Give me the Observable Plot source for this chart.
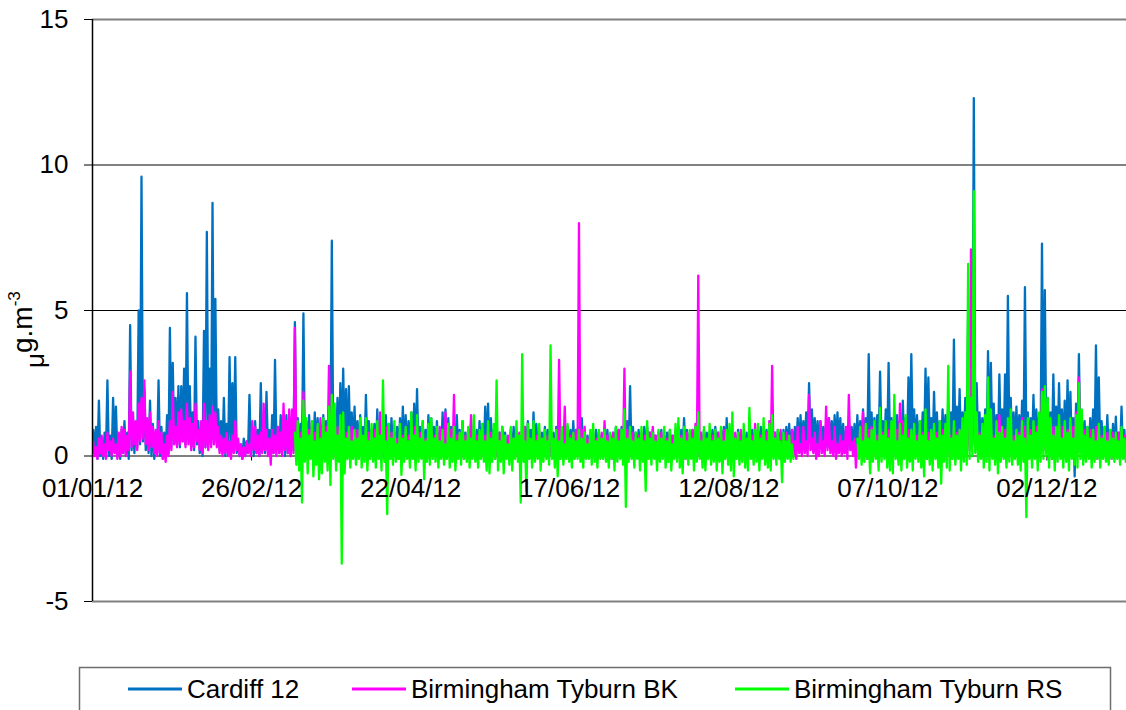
<!DOCTYPE html>
<html>
<head>
<meta charset="utf-8">
<script src="https://cdn.jsdelivr.net/npm/d3@7"></script>
<script src="https://cdn.jsdelivr.net/npm/@observablehq/plot@0.6"></script>
<style>
  html, body { margin: 0; padding: 0; background: #fff; }
  body { position: relative; width: 1126px; height: 710px; overflow: hidden; font-family: "Liberation Sans", Arial, sans-serif; }
  #chart { position: absolute; left: 0; top: 0; }
  #legend { position: absolute; left: 0; top: 650px; }
</style>
</head>
<body>
<div id="chart"></div>
<svg id="legend" width="1126" height="60"></svg>
<script>
// ---------- DATA (daily high / low values, µg.m-3) ----------
const seriesNames = ["Cardiff 12", "Birmingham Tyburn BK", "Birmingham Tyburn RS"];
const seriesColors = ["#0070C0", "#FF00FF", "#00FF00"];
const yTicks = [-5, 0, 5, 10, 15];
const xTickLabels = ["01/01/12", "26/02/12", "22/04/12", "17/06/12", "12/08/12", "07/10/12", "02/12/12"];
const yearStart = "01/01/12";
const yearEndDay = 364;      // last day shown (30/12/12)
const rsFirstDay = 71;       // RS series starts 12/03/12

const cardiffHi = [
0.9,1.0,1.9,0.6,0.8,2.6,0.7,2.0,1.7,0.6,
0.9,1.2,0.8,4.5,1.3,1.0,5.0,9.6,2.3,1.2,
1.9,1.1,0.6,2.6,1.0,0.8,1.4,4.4,3.2,2.0,
2.4,2.4,3.0,5.6,2.4,1.5,4.1,1.2,1.0,4.3,
7.7,3.0,8.7,5.4,1.6,1.2,2.0,1.1,3.4,2.5,
3.4,0.5,0.4,0.6,0.5,2.1,0.8,1.2,0.9,2.5,
1.0,2.2,0.9,1.4,3.3,1.0,1.4,1.3,1.4,0.8,
1.2,4.6,1.3,1.1,4.9,1.2,1.4,1.0,1.5,1.3,
1.0,1.4,1.2,1.6,7.4,1.5,2.0,2.5,3.0,2.3,
2.4,1.5,1.7,1.2,1.4,1.0,2.1,1.2,0.9,1.1,
1.6,1.0,0.9,1.4,1.1,1.3,0.8,1.0,1.3,1.7,
1.4,1.2,1.5,1.8,2.3,1.0,1.2,0.9,1.4,1.3,
1.0,1.2,0.8,1.5,1.6,1.3,1.0,1.1,1.4,0.9,
1.2,0.8,0.9,1.1,0.7,0.9,1.2,1.1,1.7,1.8,
1.3,0.9,0.7,0.8,1.0,0.8,0.6,0.9,1.0,0.8,
0.7,0.9,1.0,1.2,0.9,1.5,1.1,0.7,0.8,1.0,
0.9,0.7,0.8,1.0,0.8,0.7,0.9,1.0,0.9,1.2,
0.9,1.0,1.3,0.8,0.7,0.8,0.6,0.9,0.8,0.7,
0.8,0.9,0.7,0.8,1.0,0.9,1.0,1.1,1.2,2.4,
1.0,0.8,0.9,0.7,1.0,1.0,0.8,0.9,0.7,0.8,
0.9,0.7,0.8,0.9,0.7,0.8,1.0,0.9,1.3,0.9,
0.8,0.9,1.0,0.8,0.7,0.9,0.8,0.7,0.9,1.0,
0.8,0.9,1.0,1.3,0.9,0.8,0.7,0.9,0.8,0.7,
0.8,1.0,0.9,0.8,0.9,1.0,0.8,0.9,1.0,0.9,
0.8,0.9,0.8,0.9,1.0,1.1,0.9,1.0,1.3,1.4,
1.2,1.5,2.5,1.6,1.3,1.2,1.2,1.0,1.1,1.3,
1.2,1.4,1.5,1.3,1.1,0.9,1.2,1.0,1.1,1.4,
1.2,1.6,1.3,3.5,1.5,1.3,1.4,2.9,1.2,1.6,
3.2,1.3,1.5,1.4,1.2,1.9,1.3,2.7,3.5,1.6,
1.4,1.2,1.5,3.0,2.7,1.3,2.2,1.5,1.2,1.6,
1.4,1.8,1.5,4.0,1.7,2.3,1.5,2.0,4.9,3.0,
12.3,2.5,1.5,1.3,1.6,3.6,3.2,1.8,1.4,2.8,
1.6,2.8,5.5,2.0,1.5,1.7,1.4,1.9,5.8,1.5,
1.3,2.1,1.6,1.4,7.3,5.7,2.0,1.5,2.8,1.7,
2.5,1.6,1.9,2.6,2.2,1.3,1.8,3.5,1.4,1.2,
1.0,1.3,1.6,3.8,2.7,1.2,1.0,1.4,0.9,1.1,
1.35,0.8,1.7,0.9,0.6];

const cardiffLo = [
0.1,-0.1,0.0,-0.1,0.1,0.0,-0.1,0.2,0.0,-0.1,
0.1,0.0,-0.1,0.2,0.1,0.3,0.4,0.5,0.2,0.1,
0.0,-0.1,0.1,0.0,-0.1,0.0,0.1,0.3,0.5,0.4,
0.3,0.5,0.4,0.6,0.3,0.2,0.4,0.1,0.0,0.3,
0.5,0.4,0.6,0.5,0.2,0.1,0.0,0.1,0.3,0.2,
0.1,0.0,-0.1,0.0,0.1,0.2,0.0,0.1,0.0,0.2,
0.1,0.2,0.0,0.1,0.3,0.1,0.2,0.0,0.1,0.0,
0.2,0.3,0.1,0.0,0.2,0.1,0.0,0.1,0.2,0.1,
0.0,0.1,0.2,0.1,0.3,0.2,0.1,0.2,0.3,0.1,
0.2,0.1,0.0,0.1,0.0,0.1,0.2,0.0,0.1,0.0,
0.1,0.0,0.2,0.1,0.0,0.1,0.2,0.0,0.1,0.1,
0.0,0.2,0.1,0.0,0.1,0.2,0.0,0.1,0.0,0.1,
0.1,0.0,0.2,0.1,0.0,0.1,0.0,0.2,0.1,0.0,
0.1,0.0,0.1,0.2,0.0,0.1,0.0,0.1,0.2,0.1,
0.0,0.1,0.0,0.1,0.0,0.2,0.1,0.0,0.1,0.0,
0.1,0.0,0.2,0.1,0.0,0.1,0.0,0.1,0.0,0.1,
0.0,0.1,0.0,0.2,0.1,0.0,0.1,0.0,0.1,0.0,
0.1,0.0,0.1,0.0,0.1,0.0,0.1,0.2,0.0,0.1,
0.0,0.1,0.0,0.1,0.0,0.1,0.0,0.1,0.2,0.0,
0.1,0.0,0.1,0.0,0.1,0.0,0.2,0.1,0.0,0.1,
0.0,0.1,0.0,0.1,0.0,0.1,0.0,0.2,0.1,0.0,
0.1,0.0,0.1,0.0,0.2,0.1,0.0,0.1,0.0,0.1,
0.0,0.1,0.0,0.1,0.0,0.2,0.1,0.0,0.1,0.0,
0.1,0.0,0.1,0.0,0.1,0.0,0.1,0.2,0.0,0.1,
0.0,0.1,0.0,0.1,0.2,0.1,0.2,0.3,0.2,0.3,
0.4,0.3,0.5,0.4,0.3,0.2,0.3,0.2,0.3,0.4,
0.3,0.2,0.3,0.2,0.1,0.2,0.3,0.2,0.1,0.2,
0.3,0.2,0.3,0.4,0.3,0.2,0.3,0.4,0.2,0.3,
0.4,0.3,0.2,0.3,0.2,0.4,0.3,0.4,0.5,0.3,
0.2,0.3,0.2,0.4,0.3,0.2,0.3,0.2,0.1,0.2,
0.3,0.2,0.3,0.4,0.3,0.2,0.3,0.4,0.6,0.8,
1.0,0.5,0.3,0.2,0.3,0.4,0.5,0.3,0.2,0.3,
0.2,0.3,0.4,0.3,0.2,0.3,0.2,0.3,0.4,0.2,
0.3,0.2,0.3,0.2,0.4,0.5,0.3,0.2,0.3,0.2,
0.3,0.2,0.1,0.2,0.1,-0.7,0.2,0.3,0.2,0.1,
0.2,0.1,0.2,0.3,0.2,0.1,0.0,0.1,0.0,0.1,
0.0,0.1,0.0,-0.1,0.0];

const bkHi = [
0.5,0.3,0.6,0.7,0.4,0.8,0.5,0.6,0.4,0.8,
1.0,0.9,0.7,2.9,1.5,1.2,1.8,2.0,2.6,1.3,
1.5,1.0,0.9,1.2,0.8,0.4,0.7,1.2,2.2,1.0,
1.5,1.6,1.2,1.8,1.3,1.1,1.8,0.9,1.2,1.8,
1.2,1.4,1.7,1.5,1.0,0.7,0.6,0.8,0.5,0.7,
1.2,0.6,0.4,0.3,0.5,0.4,1.2,1.0,0.7,0.8,
1.8,0.9,0.6,0.9,0.7,1.0,0.8,1.8,1.2,1.6,
1.6,4.4,1.0,0.8,2.2,1.0,0.9,1.2,0.8,1.0,
1.3,1.2,1.0,3.1,1.5,0.8,1.0,0.9,0.7,0.8,
0.8,1.0,0.7,0.9,0.8,0.6,0.7,0.8,0.6,0.9,
1.0,1.5,0.8,1.0,1.0,0.8,0.7,0.6,0.8,0.7,
0.9,0.7,0.8,1.0,0.9,0.8,0.7,0.6,0.8,0.9,
0.7,0.8,1.0,0.9,1.5,0.8,0.9,2.1,0.7,0.8,
0.6,0.7,0.9,1.4,0.8,0.7,0.6,0.8,0.7,0.9,
0.8,0.6,0.7,0.8,0.9,0.6,0.7,0.8,0.6,0.7,
0.8,0.9,1.0,0.7,0.6,0.8,0.7,0.9,0.6,0.8,
0.7,0.8,0.6,0.9,3.3,0.8,1.7,0.9,0.7,0.8,
0.9,8.0,0.9,1.0,0.6,0.7,0.8,0.6,0.7,0.8,
1.2,0.7,0.6,0.8,0.7,0.9,0.8,3.0,0.9,0.7,
0.8,0.6,0.7,0.8,0.7,0.9,0.8,1.0,0.7,0.6,
0.8,0.7,0.6,0.8,0.7,0.9,0.8,0.7,0.6,0.8,
0.7,0.9,1.1,6.2,0.8,0.7,0.6,0.8,0.7,0.6,
0.8,0.7,0.9,0.8,0.7,0.6,0.8,0.7,0.9,0.7,
0.6,0.8,0.7,1.1,0.8,0.7,0.9,0.8,1.2,3.1,
0.8,0.4,0.9,0.5,0.8,0.4,0.9,0.5,1.0,0.4,
1.0,0.5,2.1,0.6,0.8,0.4,1.2,0.5,1.7,1.3,
0.5,1.0,0.4,0.7,0.5,1.0,2.1,0.5,0.6,0.4,
1.0,1.5,0.8,0.9,1.0,0.8,0.7,0.9,0.8,1.0,
0.9,0.8,1.0,0.9,1.8,1.2,0.8,0.9,0.7,0.8,
0.7,0.9,0.8,1.0,0.8,0.7,0.9,0.8,0.7,0.9,
0.8,0.9,0.7,1.0,0.8,0.9,0.7,0.9,2.0,7.1,
2.5,0.9,0.8,0.7,0.9,1.0,0.8,0.7,0.9,1.4,
0.8,0.9,1.0,0.8,0.7,0.9,0.8,1.3,1.0,0.8,
0.9,0.8,1.0,1.2,2.3,1.5,1.2,0.9,1.0,0.8,
0.9,1.0,0.8,0.9,1.2,1.0,1.5,2.7,1.3,0.9,
0.8,0.9,0.7,1.0,0.8,0.7,0.9,0.8,0.7,0.8,
0.7,0.8,0.6,0.7,0.6];

const bkLo = [
0.0,-0.1,0.1,0.0,-0.1,0.2,0.0,0.1,-0.1,0.0,
0.1,0.0,0.2,0.3,0.4,0.2,0.5,0.6,0.4,0.2,
0.3,0.1,0.0,0.1,-0.1,-0.2,0.0,0.2,0.4,0.3,
0.4,0.5,0.3,0.4,0.2,0.3,0.5,0.2,0.1,0.3,
0.2,0.3,0.4,0.3,0.1,0.0,0.1,0.0,-0.1,0.1,
0.2,0.0,-0.1,0.0,0.1,0.0,0.2,0.1,0.0,0.1,
0.2,0.0,-0.3,0.1,0.0,0.1,0.0,0.2,0.1,0.0,
0.1,0.2,0.0,0.1,0.2,0.0,0.1,0.0,-0.1,0.0,
0.1,0.0,0.2,0.1,0.0,-0.2,0.1,0.0,0.1,0.0,
0.0,0.1,-0.1,0.0,0.1,0.0,-0.1,0.1,0.0,0.0,
0.1,0.0,-0.1,0.0,0.1,0.0,0.0,-0.1,0.1,0.0,
0.0,0.1,0.0,-0.1,0.0,0.1,0.0,0.0,-0.1,0.1,
0.0,-0.1,0.1,0.0,0.0,0.1,-0.1,0.0,0.1,0.0,
-0.1,0.0,0.1,0.0,0.0,-0.1,0.1,0.0,0.0,0.1,
0.0,-0.1,0.0,0.1,0.0,0.0,-0.1,0.1,0.0,0.0,
0.1,0.0,-0.1,0.0,0.1,0.0,0.0,-0.1,0.1,0.0,
0.0,0.1,-0.1,0.0,0.0,0.1,0.0,-0.1,0.0,0.1,
0.0,0.0,-0.1,0.1,0.0,0.0,0.1,-0.1,0.0,0.0,
0.1,0.0,-0.1,0.0,0.1,0.0,0.0,-0.1,0.1,0.0,
0.0,0.1,0.0,-0.1,0.0,0.0,0.1,0.0,-0.1,0.0,
0.1,0.0,0.0,-0.1,0.1,0.0,0.0,0.1,-0.1,0.0,
0.0,0.1,0.0,0.0,-0.1,0.1,0.0,0.0,-0.1,0.0,
0.1,0.0,0.0,-0.1,0.0,0.1,0.0,-0.1,0.0,0.1,
0.0,0.0,-0.1,0.1,0.0,0.0,0.1,-0.1,0.0,0.0,
0.1,0.0,-0.1,0.0,0.0,0.1,0.0,-0.1,0.1,0.0,
0.1,0.0,0.2,0.1,-0.1,0.0,0.1,0.0,0.2,0.1,
0.0,-0.1,0.1,0.0,0.1,-0.1,0.2,0.0,-0.4,0.0,
0.1,0.0,-0.1,0.0,0.1,0.0,-0.1,0.1,0.0,0.0,
0.1,0.0,0.0,-0.1,0.1,0.0,0.0,0.1,-0.1,0.0,
0.0,0.1,0.0,-0.1,0.0,0.1,0.0,0.0,-0.1,0.1,
0.0,0.0,0.1,-0.1,0.0,0.1,0.0,0.0,0.2,0.4,
0.3,0.1,0.0,-0.1,0.0,0.1,0.0,0.0,-0.1,0.1,
0.0,0.1,0.0,-0.1,0.0,0.0,0.1,0.0,-0.1,0.0,
0.1,0.0,0.0,0.1,0.2,0.1,0.0,-0.1,0.0,0.1,
0.0,0.0,-0.1,0.1,0.0,0.0,0.1,0.2,0.0,-0.1,
0.0,0.1,0.0,-0.1,0.0,0.0,0.1,0.0,-0.1,0.0,
0.0,0.1,0.0,-0.1,0.0];

// RS: from day 71 (12/03/12); null = no data (September gap)
const rsHi = [
0.8,1.2,0.6,1.9,1.3,0.7,1.2,0.5,1.1,
0.6,1.3,0.8,1.7,2.1,1.8,0.7,1.4,1.5,0.6,
1.0,0.5,0.9,0.6,1.3,0.7,1.3,0.5,1.1,0.6,
1.2,0.7,2.6,0.5,1.1,0.6,1.2,0.4,1.1,0.6,
1.0,0.5,1.5,0.7,1.4,0.6,1.2,0.5,1.1,1.3,
0.6,1.0,0.5,0.9,0.4,1.1,0.6,1.0,0.5,0.8,
1.2,0.5,1.0,0.6,1.4,0.5,0.9,1.1,0.5,1.2,
0.6,1.1,2.6,0.5,1.0,0.7,0.4,1.0,0.6,1.2,
0.7,3.5,0.5,1.1,0.6,1.2,0.5,1.1,0.6,0.9,
0.5,3.8,0.6,0.9,0.5,1.0,0.4,1.1,0.6,0.8,
0.5,0.9,0.6,0.8,0.4,0.9,1.1,0.5,0.9,0.6,
0.9,0.5,0.8,0.6,1.0,0.5,0.9,1.6,0.6,1.0,
0.5,0.8,0.6,1.0,0.5,1.2,0.6,0.8,0.5,0.9,
0.6,1.0,0.5,0.9,0.4,1.1,1.3,0.6,1.0,0.5,
0.9,0.6,1.0,1.5,0.5,1.0,0.6,1.1,0.5,0.9,
0.6,1.0,0.5,0.9,1.1,1.5,0.6,0.8,0.5,1.1,
0.6,1.65,0.5,0.9,1.1,0.6,1.3,0.5,1.1,1.4,
0.6,0.9,0.5,0.8,0.5,0.7,0.4,
null,null,null,null,null,null,null,null,null,null,null,
null,null,null,null,null,null,null,null,null,null,null,
0.6,1.0,0.5,1.1,0.6,0.9,1.2,0.5,1.65,0.7,1.2,
0.6,1.2,2.1,0.5,1.1,0.7,1.4,0.6,0.9,1.1,
0.5,1.2,0.7,1.6,0.5,0.9,1.1,0.6,1.2,0.7,
1.1,3.1,0.6,1.2,0.7,0.9,1.3,1.5,6.6,2.0,
9.1,1.5,0.7,1.1,1.4,2.7,1.6,0.6,1.2,0.8,
1.0,0.6,1.3,1.6,0.5,0.9,0.7,1.2,0.6,1.3,
0.7,1.2,0.8,1.5,2.2,2.4,2.0,1.3,0.7,1.0,
1.4,0.6,1.2,0.8,1.3,0.6,1.4,2.5,1.6,0.7,
1.0,0.6,0.9,0.5,1.1,0.6,1.0,0.5,0.9,0.6,
0.8,0.5,1.0,0.6,0.7];

const rsLo = [
-0.3,-0.5,-1.6,-0.2,-0.6,-0.1,-0.7,-0.3,-0.8,
-0.6,-0.2,-0.5,-1.0,-0.1,-0.5,-0.2,-3.7,-0.6,-0.1,
-0.4,-0.1,-0.3,-0.1,-0.4,-0.2,-0.5,-0.1,-0.2,-0.4,
-0.1,-0.5,-0.2,-2.0,-0.1,-0.3,-0.2,-0.1,-0.65,-0.2,
-0.1,-0.4,-0.1,-0.5,-0.2,-0.1,-0.8,-0.2,-0.3,-0.1,
-0.2,-0.4,-0.1,-0.3,-0.1,-0.4,-0.2,-0.5,-0.1,-0.3,
-0.1,-0.2,-0.4,-0.1,-0.2,-0.4,-0.1,-0.2,-0.5,-0.6,
-0.2,-0.1,-0.5,-0.2,-0.6,-0.1,-0.3,-0.5,-0.1,-0.2,
-1.6,-0.2,-1.2,-0.1,-0.4,-0.2,-0.1,-0.5,-0.2,-0.1,
-0.3,-0.1,-0.4,-0.7,-0.1,-0.3,-0.1,-0.2,-0.4,-0.1,
-0.1,-0.2,-0.4,-0.1,-0.1,-0.3,-0.2,-0.4,-0.1,-0.1,
-0.2,-0.4,-0.1,-0.5,-0.2,-0.1,-0.3,-1.75,-0.2,-0.1,
-0.4,-0.1,-0.5,-0.2,-1.2,-0.1,-0.3,-0.1,-0.5,-0.2,
-0.1,-0.4,-0.2,-0.5,-0.1,-0.2,-0.4,-0.6,-0.1,-0.3,
-0.1,-0.5,-0.2,-0.1,-0.4,-0.5,-0.1,-0.3,-0.2,-0.5,
-0.2,-0.6,-0.1,-0.3,-0.5,-0.7,-0.1,-0.3,-0.2,-0.4,
-0.5,-0.1,-0.3,-0.2,-0.5,-0.1,-0.3,-0.4,-0.5,-0.1,
-0.3,-0.1,-0.9,-0.2,-0.1,-0.2,-0.1,
null,null,null,null,null,null,null,null,null,null,null,
null,null,null,null,null,null,null,null,null,null,null,
-0.1,-0.3,-0.2,-0.1,-0.6,-0.2,-0.1,-0.5,-0.2,-0.1,-0.4,
-0.5,-0.6,-0.1,-0.3,-0.5,-0.1,-0.4,-0.2,-0.5,-0.1,
-0.2,-0.4,-0.7,-0.1,-0.3,-0.5,-0.1,-0.4,-0.95,-0.2,
-0.4,-0.5,-0.1,-0.3,-0.1,-0.5,-0.2,-0.3,-0.1,0.0,
0.1,-0.2,-0.1,-0.4,-0.2,-0.5,-0.1,-0.3,-0.6,-0.2,
-0.1,-0.4,-0.2,-0.3,-0.1,-0.3,-0.5,-0.2,-2.1,-0.1,
-0.4,-0.1,-0.5,-0.2,-0.1,0.0,-0.4,-0.1,-0.5,-0.2,
-0.1,-0.4,-0.2,-0.5,-0.1,-0.3,-0.4,-0.1,-0.3,-0.2,
-0.1,-0.4,-0.2,-0.1,-0.4,-0.1,-0.2,-0.3,-0.1,-0.2,
-0.1,-0.3,-0.1,-0.2,-0.1];

// ---------- BUILD ----------
const checks = {cardiffHi, cardiffLo, bkHi, bkLo};
for (const [k, a] of Object.entries(checks)) if (a.length !== 365) throw new Error(k + " length " + a.length);
if (rsHi.length !== 365 - rsFirstDay || rsLo.length !== 365 - rsFirstDay) throw new Error("rs length " + rsHi.length + " " + rsLo.length);

const parse = d3.utcParse("%d/%m/%y");
const t0 = parse(yearStart).getTime();
const DAY = 864e5;
function build(hi, lo, start) {
  const out = [];
  hi.forEach((h, i) => {
    out.push({t: new Date(t0 + (start + i + 0.25) * DAY), v: h == null ? NaN : h});
    out.push({t: new Date(t0 + (start + i + 0.75) * DAY), v: lo[i] == null ? NaN : lo[i]});
  });
  return out;
}
const cardiff = build(cardiffHi, cardiffLo, 0);
const bk = build(bkHi, bkLo, 0);
const rs = build(rsHi, rsLo, rsFirstDay);
const xTicks = xTickLabels.map(s => parse(s));
const xDomain = [new Date(t0), new Date(t0 + yearEndDay * DAY)];

const font = "'Liberation Sans', Arial, sans-serif";
const lineOpts = {x: "t", y: "v", strokeWidth: 2.3, clip: "frame", strokeLinejoin: "round"};

const chart = Plot.plot({
  width: 1126,
  height: 650,
  marginLeft: 92,
  marginRight: 0,
  marginTop: 19,
  marginBottom: 49,
  style: {fontFamily: font, fontSize: "26px", background: "white", color: "#000"},
  x: {type: "utc", domain: xDomain, axis: null},
  y: {domain: [-5, 15], axis: null},
  marks: [
    Plot.ruleY([15, 10, -5], {stroke: "#808080", strokeWidth: 2}),
    Plot.ruleY([5], {stroke: "#000", strokeWidth: 1}),
    Plot.ruleY([0], {stroke: "#000", strokeWidth: 1}),
    Plot.ruleX(xTicks, {x: d => d, y1: 0, y2: 0, insetBottom: -5, stroke: "#000"}),
    Plot.line(cardiff, {...lineOpts, stroke: seriesColors[0]}),
    Plot.line(bk, {...lineOpts, stroke: seriesColors[1]}),
    Plot.line(rs, {...lineOpts, stroke: seriesColors[2]}),
    Plot.ruleX([xDomain[0]], {y1: -5, y2: 15, stroke: "#000", strokeWidth: 1.5}),
    Plot.axisY({ticks: yTicks, tickSize: 8, tickPadding: 16, tickFormat: d => String(d), label: null, fontSize: 26, stroke: "#000"}),
    Plot.text(xTicks, {x: d => d, y: 0, text: (d, i) => xTickLabels[i], dy: 23, lineAnchor: "top", textAnchor: "middle", fontSize: 26, fill: "#000"})
  ]
});
document.getElementById("chart").appendChild(chart);

// y-axis title: µg.m-3 (rotated)
const svg = d3.select(chart);
const yl = svg.append("text")
  .attr("transform", "translate(32,368) rotate(-90)")
  .attr("font-family", font)
  .attr("fill", "#000")
  .attr("text-anchor", "start");
yl.append("tspan").attr("font-size", 26).attr("dy", 12).text("μ");
yl.append("tspan").attr("font-size", 28).attr("dy", -12).text("g.m");
yl.append("tspan").attr("font-size", 17).attr("dy", -12).text("-3");

// ---------- LEGEND ----------
const lg = d3.select("#legend");
lg.append("rect").attr("x", 79.5).attr("y", 17.5).attr("width", 1031).attr("height", 60)
  .attr("fill", "white").attr("stroke", "#6e6e6e").attr("stroke-width", 1.5);
const legendX = [128, 352, 735];
seriesNames.forEach((name, i) => {
  lg.append("line").attr("x1", legendX[i]).attr("x2", legendX[i] + 54).attr("y1", 39).attr("y2", 39)
    .attr("stroke", seriesColors[i]).attr("stroke-width", 3);
  lg.append("text").attr("x", legendX[i] + 59).attr("y", 48).attr("font-family", font)
    .attr("font-size", 26).attr("fill", "#000").text(name);
});
</script>
</body>
</html>
